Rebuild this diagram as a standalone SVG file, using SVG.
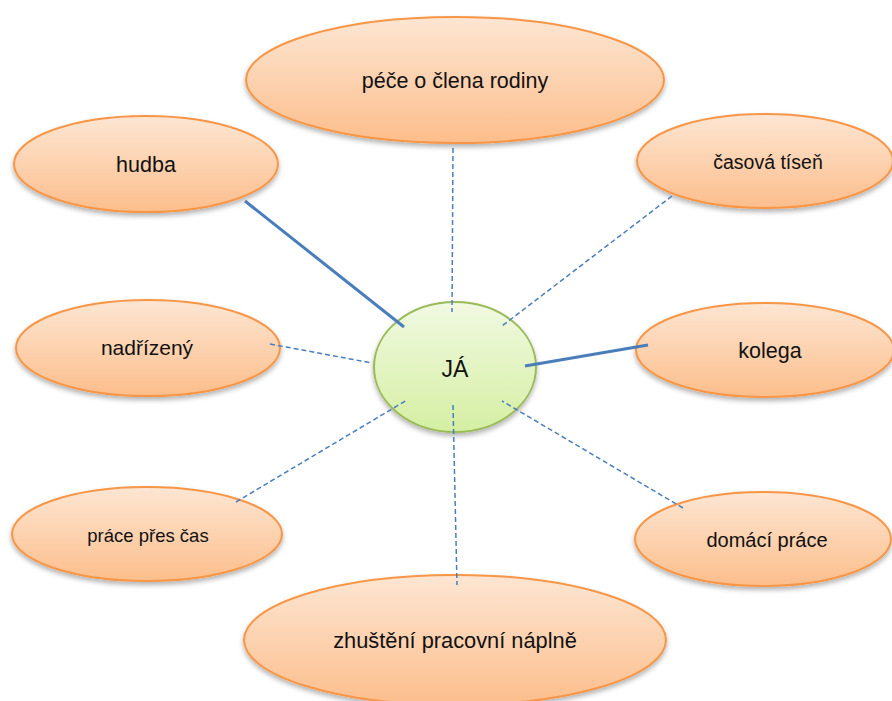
<svg xmlns="http://www.w3.org/2000/svg" width="892" height="701" viewBox="0 0 892 701">
<defs>
<linearGradient id="og" x1="0" y1="0" x2="0" y2="1">
<stop offset="0" stop-color="#fde6d3"/>
<stop offset="1" stop-color="#fcbe8c"/>
</linearGradient>
<linearGradient id="gg" x1="0" y1="0" x2="0" y2="1">
<stop offset="0" stop-color="#f1f9e2"/>
<stop offset="1" stop-color="#d5efa3"/>
</linearGradient>
<filter id="sh" x="-10%" y="-10%" width="120%" height="130%">
<feDropShadow dx="0" dy="3" stdDeviation="2.5" flood-color="#000" flood-opacity="0.3"/>
</filter>
</defs>
<style>
.o{fill:url(#og);stroke:#f79646;stroke-width:2;filter:url(#sh)}
.g{fill:url(#gg);stroke:#9bbb59;stroke-width:2;filter:url(#sh)}
.t{font-family:"Liberation Sans",Arial,sans-serif;fill:#111;text-anchor:middle}
.s{stroke:#4a7ebb;stroke-width:3;fill:none}
.d{stroke:#4a7ebb;stroke-width:1.5;stroke-dasharray:5 3;fill:none}
</style>
<rect width="892" height="701" fill="#fff"/>
<g id="n-pece"><ellipse class="o" cx="455" cy="80" rx="209" ry="63"/><text class="t" x="455" y="88" font-size="21.5">péče o člena rodiny</text></g>
<g id="n-hudba"><ellipse class="o" cx="146" cy="164" rx="132" ry="48"/><text class="t" x="146" y="172" font-size="21.5">hudba</text></g>
<g id="n-casova"><ellipse class="o" cx="765" cy="161" rx="128" ry="47"/><text class="t" x="768" y="169" font-size="19.5">časová tíseň</text></g>
<g id="n-nadrizeny"><ellipse class="o" cx="148" cy="348" rx="132" ry="48"/><text class="t" x="147" y="355" font-size="21">nadřízený</text></g>
<g id="n-kolega"><ellipse class="o" cx="765" cy="350" rx="129" ry="47"/><text class="t" x="770" y="358" font-size="21.5">kolega</text></g>
<g id="n-prace"><ellipse class="o" cx="147" cy="534" rx="135" ry="47"/><text class="t" x="148" y="542" font-size="18.5">práce přes čas</text></g>
<g id="n-domaci"><ellipse class="o" cx="763" cy="539" rx="128" ry="47"/><text class="t" x="767" y="547" font-size="20">domácí práce</text></g>
<g id="n-zhusteni"><ellipse class="o" cx="455" cy="640" rx="211" ry="65"/><text class="t" x="455" y="648" font-size="21.8">zhuštění pracovní náplně</text></g>
<g id="n-ja"><ellipse class="g" cx="455" cy="367" rx="81" ry="65"/><text class="t" x="455" y="377" font-size="23">JÁ</text></g>
<g id="connectors">
<line class="s" x1="245" y1="201" x2="404" y2="327"/>
<line class="s" x1="525" y1="366" x2="648" y2="345"/>
<line class="d" x1="453" y1="148" x2="452" y2="312"/>
<line class="d" x1="672" y1="196" x2="502" y2="326"/>
<line class="d" x1="270" y1="344" x2="372" y2="363"/>
<line class="d" x1="236" y1="502" x2="407" y2="400"/>
<line class="d" x1="683" y1="508" x2="502" y2="401"/>
<line class="d" x1="453" y1="405" x2="457" y2="585"/>
</g>
</svg>
